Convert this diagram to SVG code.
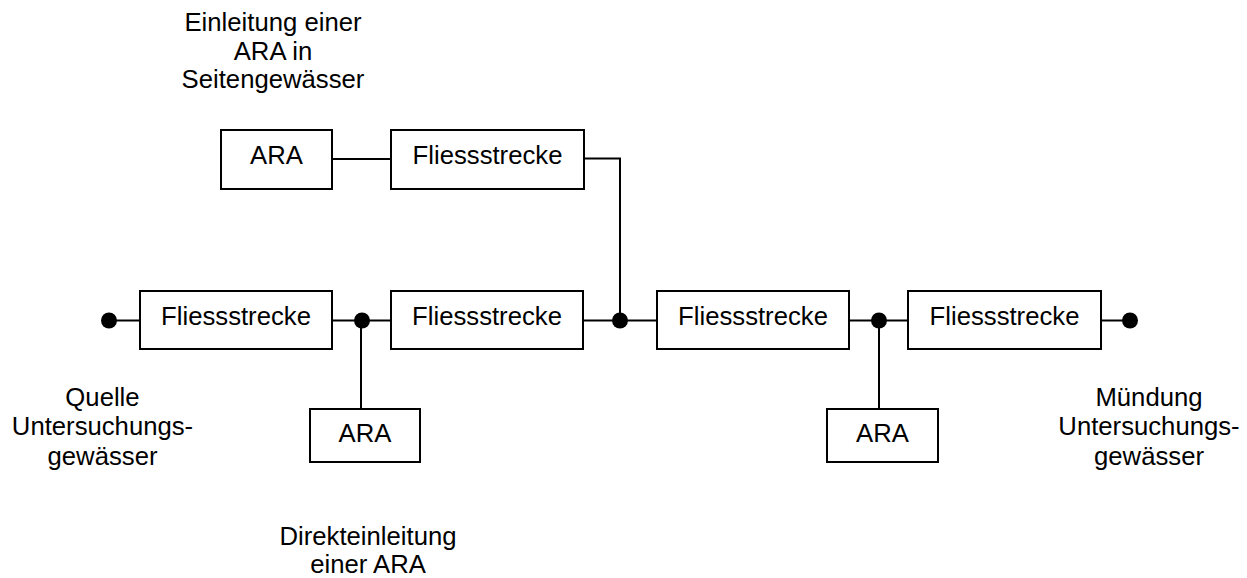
<svg xmlns="http://www.w3.org/2000/svg" width="1247" height="578" viewBox="0 0 1247 578">
<style>
.box{fill:#fff;stroke:#000;stroke-width:2}
.ln{fill:none;stroke:#000;stroke-width:2}
.dot{fill:#000}
text{font-family:"Liberation Sans",Arial,sans-serif;font-size:25.7px;fill:#000;text-anchor:middle}
</style>
<rect width="1247" height="578" fill="#fff"/>
<g id="connectors">
<line class="ln" x1="109" y1="320.5" x2="140" y2="320.5"/>
<line class="ln" x1="332" y1="320.5" x2="391" y2="320.5"/>
<line class="ln" x1="583" y1="320.5" x2="657" y2="320.5"/>
<line class="ln" x1="849" y1="320.5" x2="908" y2="320.5"/>
<line class="ln" x1="1101" y1="320.5" x2="1130" y2="320.5"/>
<line class="ln" x1="361" y1="320.5" x2="361" y2="409"/>
<line class="ln" x1="879" y1="320.5" x2="879" y2="409"/>
<polyline class="ln" points="584,158.5 620,158.5 620,320.5"/>
<line class="ln" x1="332" y1="159" x2="391" y2="159"/>
<circle class="dot" cx="109" cy="320.5" r="8"/>
<circle class="dot" cx="362" cy="320.5" r="8"/>
<circle class="dot" cx="620" cy="320.5" r="8"/>
<circle class="dot" cx="879" cy="320.5" r="8"/>
<circle class="dot" cx="1130" cy="320.5" r="8"/>
</g>
<g id="ara_top"><rect class="box" x="221" y="130" width="111" height="59"/><text x="276.5" y="164">ARA</text></g>
<g id="fs_top"><rect class="box" x="391" y="130" width="193" height="59"/><text x="487.5" y="164">Fliessstrecke</text></g>
<g id="fs1"><rect class="box" x="140" y="291" width="192" height="58"/><text x="236" y="325">Fliessstrecke</text></g>
<g id="fs2"><rect class="box" x="391" y="291" width="192" height="58"/><text x="487" y="325">Fliessstrecke</text></g>
<g id="fs3"><rect class="box" x="657" y="291" width="192" height="58"/><text x="753" y="325">Fliessstrecke</text></g>
<g id="fs4"><rect class="box" x="908" y="291" width="193" height="58"/><text x="1004.5" y="325">Fliessstrecke</text></g>
<g id="ara1"><rect class="box" x="310" y="409" width="110" height="53"/><text x="365" y="442">ARA</text></g>
<g id="ara2"><rect class="box" x="827" y="409" width="111" height="53"/><text x="882.5" y="442">ARA</text></g>
<g id="label_top"><text x="273" y="31">Einleitung einer</text><text x="273" y="59.5">ARA in</text><text x="273" y="88">Seitengewässer</text></g>
<g id="label_quelle"><text x="102.5" y="405.5">Quelle</text><text x="102.5" y="435">Untersuchungs-</text><text x="102.5" y="464.5">gewässer</text></g>
<g id="label_muendung"><text x="1149" y="405.5">Mündung</text><text x="1149" y="435">Untersuchungs-</text><text x="1149" y="464.5">gewässer</text></g>
<g id="label_direkt"><text x="368" y="545">Direkteinleitung</text><text x="368" y="573">einer ARA</text></g>
</svg>
